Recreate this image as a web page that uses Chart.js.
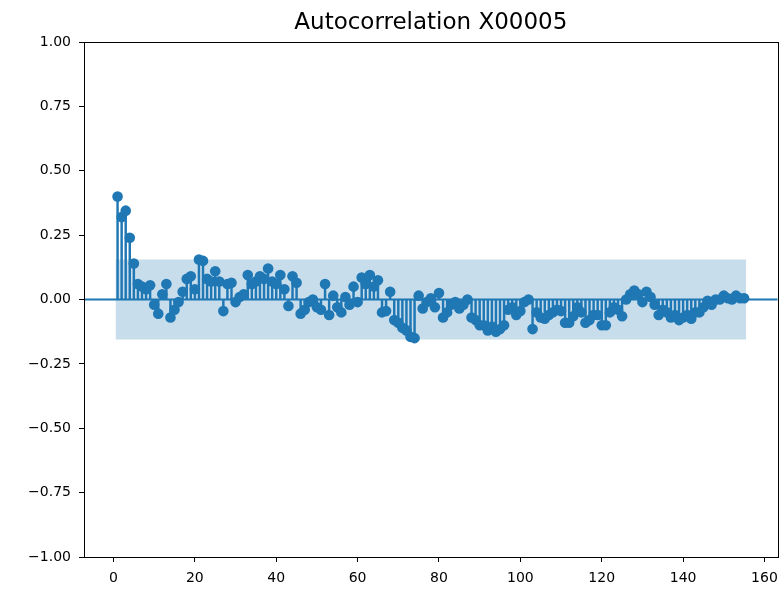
<!DOCTYPE html>
<html><head><meta charset="utf-8">
<script src="https://cdn.jsdelivr.net/npm/chart.js@4"></script>
<style>html,body{margin:0;padding:0;background:#fff}</style>
</head><body>
<canvas id="c" width="783" height="593"></canvas>
<script>
const chartTitle = "Autocorrelation X00005";
const acfValues = [
  0.40, 0.32, 0.345, 0.24, 0.14, 0.06, 0.05, 0.04, 0.055, -0.02,
  -0.055, 0.02, 0.06, -0.07, -0.04, -0.01, 0.03, 0.08, 0.09, 0.04,
  0.155, 0.15, 0.08, 0.07, 0.11, 0.07, -0.045, 0.06, 0.065, -0.01,
  0.01, 0.02, 0.095, 0.06, 0.07, 0.09, 0.08, 0.12, 0.07, 0.06,
  0.095, 0.04, -0.025, 0.09, 0.065, -0.055, -0.04, -0.01, 0.0, -0.03,
  -0.04, 0.06, -0.06, 0.015, -0.03, -0.05, 0.01, -0.02, 0.05, -0.01,
  0.085, 0.06, 0.095, 0.05, 0.075, -0.05, -0.045, 0.03, -0.08, -0.09,
  -0.11, -0.12, -0.145, -0.15, 0.015, -0.035, -0.01, 0.005, -0.03, 0.025,
  -0.07, -0.05, -0.02, -0.01, -0.035, -0.02, 0.0, -0.07, -0.08, -0.1,
  -0.1, -0.12, -0.105, -0.125, -0.115, -0.10, -0.04, -0.03, -0.06, -0.045,
  -0.01, 0.0, -0.115, -0.05, -0.07, -0.075, -0.06, -0.05, -0.04, -0.045,
  -0.09, -0.09, -0.065, -0.03, -0.05, -0.09, -0.08, -0.06, -0.06, -0.10,
  -0.10, -0.05, -0.03, -0.04, -0.065, 0.0, 0.02, 0.035, 0.02, -0.01,
  0.03, 0.01, -0.02, -0.06, -0.04, -0.05, -0.07, -0.06, -0.08, -0.07,
  -0.06, -0.075, -0.05, -0.05, -0.03, -0.005, -0.02, 0.0, 0.0, 0.015,
  0.005, 0.0, 0.015, 0.005, 0.005
];
const lags = acfValues.map((_, i) => i + 1);
const bandLags = [0.5, 155.5];
const bandUpper = [0.155, 0.155];
const bandLower = [-0.155, -0.155];
const xTicks = [0, 20, 40, 60, 80, 100, 120, 140, 160];
const yTicks = [-1.0, -0.75, -0.5, -0.25, 0.0, 0.25, 0.5, 0.75, 1.0];
const xRange = [-7.25, 163.25];
const yRange = [-1, 1];

const blue = '#1f77b4';
const tickFont = {family: 'DejaVu Sans', size: 14};

const framePlugin = {
  id: 'frame',
  afterDraw(chart) {
    const {ctx, chartArea: a} = chart;
    ctx.save();
    ctx.strokeStyle = '#000';
    ctx.lineWidth = 1;
    ctx.strokeRect(Math.round(a.left) + 0.5, Math.round(a.top) + 0.5,
                   Math.round(a.right - a.left), Math.round(a.bottom - a.top));
    ctx.restore();
  }
};

const pts = lags.map((x, i) => ({x: x, y: acfValues[i]}));

new Chart(document.getElementById('c'), {
  type: 'scatter',
  data: {
    datasets: [
      {
        type: 'scatter', data: pts, order: 0,
        pointRadius: 5.3, pointHoverRadius: 5.3,
        backgroundColor: blue, borderWidth: 0
      },
      {
        type: 'bar', data: pts, order: 1,
        barThickness: 1.8, backgroundColor: blue, borderWidth: 0
      },
      {
        type: 'line', order: 2,
        data: [{x: xRange[0], y: 0}, {x: xRange[1], y: 0}],
        borderColor: blue, borderWidth: 1.8, pointRadius: 0, fill: false
      },
      {
        type: 'line', order: 3,
        data: bandLags.map((x, i) => ({x: x, y: bandUpper[i]})),
        borderWidth: 0, borderColor: 'rgba(0,0,0,0)', pointRadius: 0,
        backgroundColor: 'rgba(31,119,180,0.25)', fill: '+1'
      },
      {
        type: 'line', order: 4,
        data: bandLags.map((x, i) => ({x: x, y: bandLower[i]})),
        borderWidth: 0, borderColor: 'rgba(0,0,0,0)', pointRadius: 0, fill: false
      }
    ]
  },
  options: {
    responsive: false,
    animation: false,
    layout: {padding: {left: 0, right: 5, top: 0, bottom: 0}},
    plugins: {
      legend: {display: false},
      tooltip: {enabled: false},
      title: {
        display: true, fullSize: false, text: chartTitle, color: '#000',
        font: {family: 'DejaVu Sans', size: 23, weight: 'normal'},
        padding: {top: 9.2, bottom: 5.2}
      }
    },
    scales: {
      x: {
        type: 'linear', min: xRange[0], max: xRange[1], offset: false,
        afterBuildTicks: s => { s.ticks = xTicks.map(v => ({value: v})); },
        afterFit: s => { s.height = 36; s.paddingLeft = 0; s.paddingRight = 0; },
        grid: {display: true, offset: false, drawOnChartArea: false, drawTicks: true, tickLength: 5, color: '#000'},
        border: {display: false},
        ticks: {color: '#000', font: tickFont, padding: 8, maxRotation: 0, autoSkip: false,
                callback: v => String(v)}
      },
      y: {
        type: 'linear', min: yRange[0], max: yRange[1],
        afterBuildTicks: s => { s.ticks = yTicks.map(v => ({value: v})); },
        afterFit: s => { s.width = 84; s.paddingTop = 0; s.paddingBottom = 0; },
        grid: {display: true, offset: false, drawOnChartArea: false, drawTicks: true, tickLength: 5, color: '#000'},
        border: {display: false},
        ticks: {color: '#000', font: tickFont, padding: 8, autoSkip: false,
                callback: v => (v < 0 ? '\u2212' : '') + Math.abs(v).toFixed(2)}
      }
    }
  },
  plugins: [framePlugin]
});
</script>
</body></html>
